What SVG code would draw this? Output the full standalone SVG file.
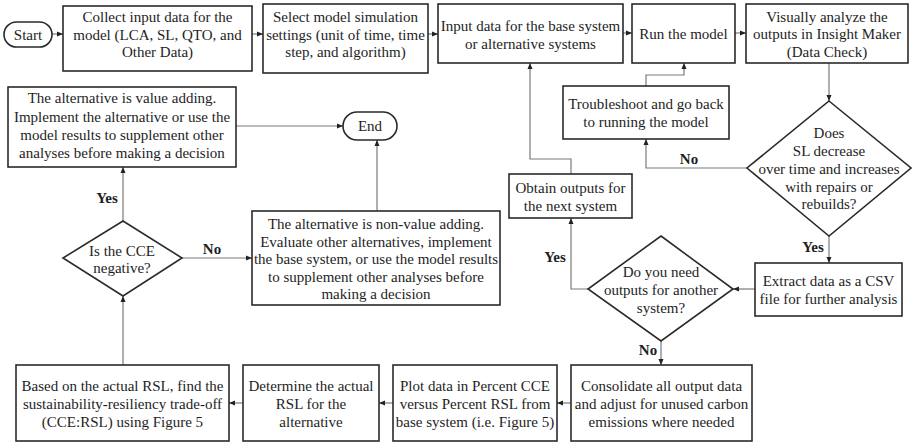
<svg xmlns="http://www.w3.org/2000/svg" width="912" height="444" viewBox="0 0 912 444" font-family="'Liberation Serif', 'DejaVu Serif', serif">
<defs>
<marker id="ah" markerUnits="userSpaceOnUse" markerWidth="6" markerHeight="6" refX="6" refY="3" orient="auto">
<path d="M0,0.5 L6,3 L0,5.5 z" fill="#222"/>
</marker>
<style>
rect, .d { fill: #fff; stroke: #2a2a2a; stroke-width: 1.6; }
text { font-family: 'Liberation Serif', 'DejaVu Serif', serif; font-size: 15px; fill: #1e1e1e; text-anchor: middle; }
.b { font-weight: bold; }
.c { fill: none; stroke: #7a7a7a; stroke-width: 1.2; marker-end: url(#ah); }
</style>
</defs>
<rect x="0" y="0" width="912" height="444" style="fill:#fff;stroke:none"/>

<g id="connectors">
<path class="c" d="M52,34 H63"/>
<path class="c" d="M252,34 H263"/>
<path class="c" d="M428,34 H438"/>
<path class="c" d="M623,33 H632"/>
<path class="c" d="M735,33 H746"/>
<path class="c" d="M829,63 V101"/>
<path class="c" d="M747,168 H646 V139"/>
<path class="c" d="M646,86 V75 H684 V63"/>
<path class="c" d="M829,236 V263"/>
<path class="c" d="M755,289 H733"/>
<path class="c" d="M588,289 H571 V218"/>
<path class="c" d="M571,174 V159 H530 V63"/>
<path class="c" d="M661,341 V365"/>
<path class="c" d="M571,403 H557"/>
<path class="c" d="M393,403 H379"/>
<path class="c" d="M243,403 H229"/>
<path class="c" d="M123,365 V296"/>
<path class="c" d="M123,221 V167"/>
<path class="c" d="M182,258 H252"/>
<path class="c" d="M236,126 H343"/>
<path class="c" d="M377,211 V140"/>
<text class="b" x="689" y="164">No</text>
<text class="b" x="813" y="252">Yes</text>
<text class="b" x="555" y="262">Yes</text>
<text class="b" x="648" y="355">No</text>
<text class="b" x="107" y="203">Yes</text>
<text class="b" x="212" y="254">No</text>
</g>

<g id="start">
<rect x="4" y="22" width="48" height="25" rx="12.5"/>
<text x="28" y="39.5">Start</text>
</g>

<g id="collect">
<rect x="63" y="6" width="189" height="65"/>
<text x="157.5" y="22">Collect input data for the</text>
<text x="157.5" y="39.5">model (LCA, SL, QTO, and</text>
<text x="157.5" y="57">Other Data)</text>
</g>

<g id="select">
<rect x="263" y="4" width="165" height="69"/>
<text x="345.5" y="22">Select model simulation</text>
<text x="345.5" y="39.5">settings (unit of time, time</text>
<text x="345.5" y="57">step, and algorithm)</text>
</g>

<g id="input">
<rect x="438" y="4" width="185" height="59"/>
<text x="530.5" y="31">Input data for the base system</text>
<text x="530.5" y="48.5">or alternative systems</text>
</g>

<g id="run">
<rect x="632" y="4" width="103" height="59"/>
<text x="683.5" y="39">Run the model</text>
</g>

<g id="visually">
<rect x="746" y="4" width="162" height="59"/>
<text x="827" y="21.5">Visually analyze the</text>
<text x="827" y="39">outputs in Insight Maker</text>
<text x="827" y="56.5">(Data Check)</text>
</g>

<g id="troubleshoot">
<rect x="563" y="86" width="166" height="53"/>
<text x="646" y="109">Troubleshoot and go back</text>
<text x="646" y="127">to running the model</text>
</g>

<g id="sl-check">
<polygon class="d" points="829,101 911,168 829,236 747,168"/>
<text x="829" y="138">Does</text>
<text x="829" y="156">SL decrease</text>
<text x="829" y="173.5">over time and increases</text>
<text x="829" y="191.5">with repairs or</text>
<text x="829" y="209">rebuilds?</text>
</g>

<g id="extract">
<rect x="755" y="263" width="147" height="53"/>
<text x="828.5" y="286">Extract data as a CSV</text>
<text x="828.5" y="304">file for further analysis</text>
</g>

<g id="another">
<polygon class="d" points="661,236 733,289 661,341 588,289"/>
<text x="661" y="277">Do you need</text>
<text x="661" y="295">outputs for another</text>
<text x="661" y="313">system?</text>
</g>

<g id="obtain">
<rect x="509" y="174" width="123" height="44"/>
<text x="570.5" y="193">Obtain outputs for</text>
<text x="570.5" y="211">the next system</text>
</g>

<g id="consolidate">
<rect x="571" y="365" width="181" height="76"/>
<text x="661.5" y="391">Consolidate all output data</text>
<text x="661.5" y="409">and adjust for unused carbon</text>
<text x="661.5" y="427">emissions where needed</text>
</g>

<g id="plot">
<rect x="393" y="365" width="164" height="76"/>
<text x="475" y="391">Plot data in Percent CCE</text>
<text x="475" y="409">versus Percent RSL from</text>
<text x="475" y="427">base system (i.e. Figure 5)</text>
</g>

<g id="determine">
<rect x="243" y="365" width="136" height="76"/>
<text x="311" y="391">Determine the actual</text>
<text x="311" y="409">RSL for the</text>
<text x="311" y="427">alternative</text>
</g>

<g id="based">
<rect x="16" y="365" width="213" height="76"/>
<text x="122.5" y="391">Based on the actual RSL, find the</text>
<text x="122.5" y="409">sustainability-resiliency trade-off</text>
<text x="122.5" y="427">(CCE:RSL) using Figure 5</text>
</g>

<g id="cce-negative">
<polygon class="d" points="123,221 182,258 123,296 63,258"/>
<text x="122" y="256">Is the CCE</text>
<text x="122" y="273">negative?</text>
</g>

<g id="non-value">
<rect x="252" y="211" width="248" height="94"/>
<text x="376" y="229">The alternative is non-value adding.</text>
<text x="376" y="246.5">Evaluate other alternatives, implement</text>
<text x="376" y="264">the base system, or use the model results</text>
<text x="376" y="281.5">to supplement other analyses before</text>
<text x="376" y="299">making a decision</text>
</g>

<g id="value">
<rect x="8" y="87" width="228" height="80"/>
<text x="122" y="103">The alternative is value adding.</text>
<text x="122" y="121.5">Implement the alternative or use the</text>
<text x="122" y="140">model results to supplement other</text>
<text x="122" y="158">analyses before making a decision</text>
</g>

<g id="end">
<rect x="343" y="112" width="54" height="28" rx="14"/>
<text x="370" y="131">End</text>
</g>
</svg>
